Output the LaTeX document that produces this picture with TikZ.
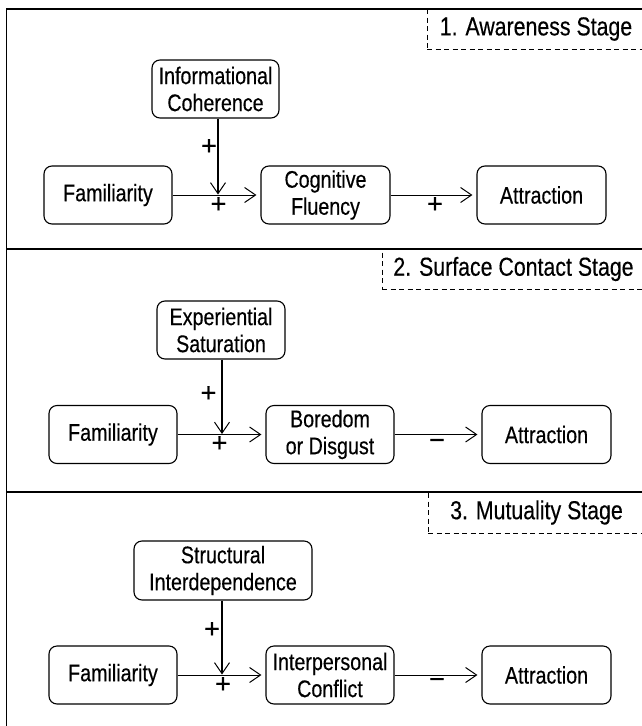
\documentclass[tikz,border=0pt]{standalone}
\usepackage{fontspec}
\setmainfont{Liberation Sans}[FakeStretch=0.82,FakeBold=0.35]
\newfontfamily\signfont{Liberation Sans}[FakeBold=0.3]
\usetikzlibrary{arrows.meta}
\tikzset{
  box/.style={draw, rounded corners=8pt, line width=1.1pt, align=center, inner sep=0pt,
    minimum width=128pt, minimum height=58pt, font=\fontsize{24}{27}\selectfont},
  stagebox/.style={draw, dashed, dash pattern=on 5pt off 3.5pt, line width=0.9pt, inner sep=0pt,
    minimum height=40pt, font=\fontsize{26}{28}\selectfont},
  sign/.style={inner sep=0pt, font=\signfont\fontsize{27}{28}\selectfont},
  arr/.style={line width=1pt, -{Straight Barb[length=11pt,width=15pt,line width=1pt]}, shorten >=4pt},
  varr/.style={line width=1.3pt, -{Straight Barb[length=11pt,width=15pt,line width=1pt]}},
  frame/.style={line width=1.4pt}
}
\begin{document}
\begin{tikzpicture}[x=1pt,y=-1pt]
\useasboundingbox (0,0) rectangle (641,726);
% frame and separators
\draw[frame] (660,9) -- (6.5,9) -- (6.5,740);
\draw[frame] (6.5,249) -- (660,249);
\draw[frame] (6.5,492) -- (660,492);

% ---------- Stage 1 ----------
\node[stagebox, minimum width=218pt] (st1) at (536,29) {1. Awareness Stage};
\node[box, minimum width=127pt] (ic) at (215.5,89) {Informational\\Coherence};
\node[box] (fam1) at (108,195) {Familiarity};
\node[box, minimum width=129pt] (cf) at (325.5,195) {Cognitive\\Fluency};
\node[box, minimum width=129pt] (att1) at (541.5,195) {Attraction};
\coordinate (m1) at (218,194.5);
\draw[arr] (fam1) -- (cf);
\draw[arr] (cf) -- (att1);
\draw[varr] (ic.south -| m1) -- (m1);
\node[sign] (p1a) at (209,147) {+};
\node[sign] (p1b) at (218.5,205) {+};
\node[sign] (p1c) at (435,205) {+};

% ---------- Stage 2 ----------
\node[stagebox, minimum width=263pt] (st2) at (513.5,269) {2. Surface Contact Stage};
\node[box] (es) at (221,330) {Experiential\\Saturation};
\node[box] (fam2) at (113,434.5) {Familiarity};
\node[box] (bd) at (330,434.5) {Boredom\\or Disgust};
\node[box, minimum width=129pt] (att2) at (546.5,434.5) {Attraction};
\coordinate (m2) at (222,434);
\draw[arr] (fam2) -- (bd);
\draw[arr] (bd) -- (att2);
\draw[varr] (es.south -| m2) -- (m2);
\node[sign] (p2a) at (208.5,394) {+};
\node[sign] (p2b) at (219.5,444) {+};
\node[sign] (m2c) at (437,444) {\symbol{"2212}};

% ---------- Stage 3 ----------
\node[stagebox, minimum width=217pt, minimum height=41pt] (st3) at (536.5,512.5) {3. Mutuality Stage};
\node[box, minimum width=178pt, minimum height=59pt] (si) at (223,570.5) {Structural\\Interdependence};
\node[box] (fam3) at (113,675) {Familiarity};
\node[box] (ipc) at (330,675) {Interpersonal\\Conflict};
\node[box, minimum width=129pt] (att3) at (546.5,675) {Attraction};
\coordinate (m3) at (222,674.5);
\draw[arr] (fam3) -- (ipc);
\draw[arr] (ipc) -- (att3);
\draw[varr] (si.south -| m3) -- (m3);
\node[sign] (p3a) at (212,630) {+};
\node[sign] (p3b) at (223,685) {+};
\node[sign] (m3c) at (437,683) {\symbol{"2212}};
\end{tikzpicture}
\end{document}
